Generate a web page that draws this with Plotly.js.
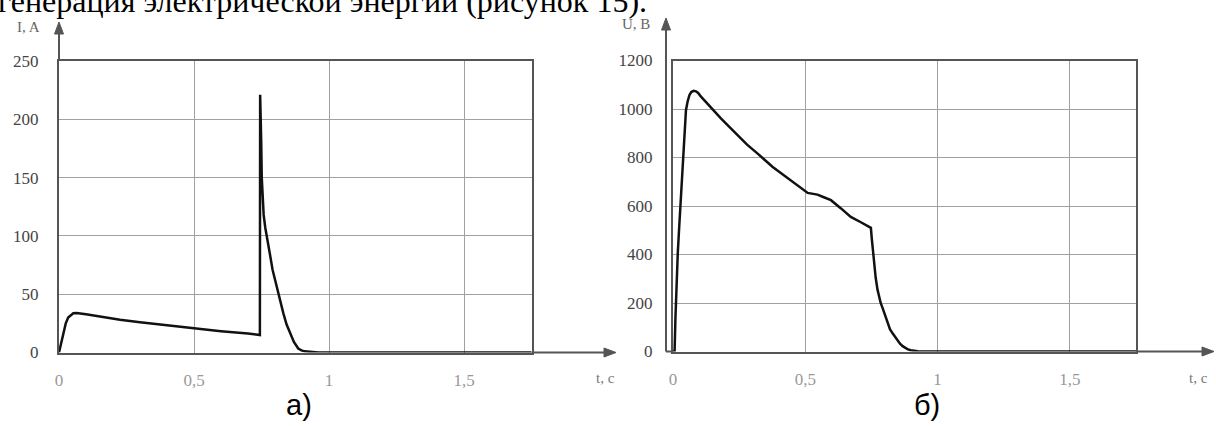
<!DOCTYPE html>
<html><head><meta charset="utf-8">
<script src="https://cdn.plot.ly/plotly-3.0.1.min.js"></script>
<style>html,body{margin:0;padding:0;background:#fff;}#chart{width:1216px;height:426px;}</style>
</head><body><div id="chart"></div>
<script>
// ---- data ----
const tCurrent = [0, 0.008, 0.016, 0.025, 0.034, 0.045, 0.053, 0.065, 0.078, 0.1, 0.14, 0.177, 0.226, 0.3, 0.4, 0.5, 0.6, 0.7, 0.744, 0.745, 0.747, 0.749, 0.751, 0.754, 0.758, 0.764, 0.77, 0.78, 0.791, 0.802, 0.812, 0.822, 0.831, 0.843, 0.856, 0.87, 0.886, 0.898, 0.91, 0.935, 0.96, 1.0, 1.75];
const current  = [0, 9, 17, 25, 30, 32.6, 33.6, 33.8, 33.5, 32.8, 31.4, 30, 28, 26, 23.3, 20.5, 18.3, 16.2, 15, 221, 205, 180, 150, 132, 118, 107, 100, 86, 71, 60, 50, 41, 33.6, 24, 16.4, 9, 3.4, 1.8, 1, 0.2, 0, 0, 0];

const tVoltage = [0, 0.006, 0.009, 0.013, 0.018, 0.023, 0.028, 0.033, 0.037, 0.041, 0.045, 0.049, 0.055, 0.062, 0.069, 0.078, 0.087, 0.095, 0.105, 0.118, 0.15, 0.181, 0.212, 0.244, 0.28, 0.32, 0.35, 0.377, 0.41, 0.446, 0.48, 0.509, 0.53, 0.546, 0.57, 0.597, 0.635, 0.672, 0.71, 0.748, 0.751, 0.754, 0.757, 0.76, 0.766, 0.773, 0.779, 0.785, 0.792, 0.798, 0.805, 0.811, 0.82, 0.83, 0.84, 0.849, 0.858, 0.868, 0.877, 0.886, 0.898, 0.911, 0.925, 0.94, 0.96, 1.75];
const voltage  = [0, 0, 130, 270, 404, 505, 596, 700, 800, 870, 935, 995, 1030, 1057, 1070, 1075, 1073, 1066, 1052, 1036, 1000, 961, 927, 892, 853, 816, 787, 761, 734, 706, 680, 654, 650, 647, 636, 624, 590, 555, 533, 510, 470, 430, 395, 365, 305, 255, 226, 200, 180, 160, 135, 113, 92, 75, 58, 44, 32, 22, 15, 10, 5, 2, 0.6, 0, 0, 0];

const timeTickVals = [0, 0.5, 1, 1.5];
const timeTickText = ['0', '0,5', '1', '1,5'];
const currentTickVals = [0, 50, 100, 150, 200, 250];
const voltageTickVals = [0, 200, 400, 600, 800, 1000, 1200];

const headingText = 'генерация электрической энергии (рисунок 15).';
const panelLabels = ['а)', 'б)'];
const axisNames = {i: 'I, A', u: 'U, B', t: 't, c'};

// ---- layout helpers (pixels -> paper) ----
const W = 1216, H = 426;
const X = p => p / W;
const Y = p => (H - p) / H;

const AX = '#555', GRID = '#a0a0a0', LAB = '#444', XLAB = '#999';
const serif = 'Liberation Serif';
const sans = 'Liberation Sans';

function xAxis(domain) {
  return {domain: domain, range: [0, 1.75], tickvals: timeTickVals, ticktext: timeTickText,
    showgrid: true, gridcolor: GRID, gridwidth: 1, zeroline: false,
    showline: true, mirror: true, linecolor: AX, linewidth: 2,
    ticks: 'outside', ticklen: 11, tickcolor: 'rgba(0,0,0,0)',
    tickfont: {family: serif, size: 17, color: XLAB}, fixedrange: true};
}
function yAxis(domain, range, vals) {
  return {domain: domain, range: range, tickvals: vals, ticktext: vals.map(String),
    showgrid: true, gridcolor: GRID, gridwidth: 1, zeroline: false,
    showline: true, mirror: true, linecolor: AX, linewidth: 2,
    ticks: 'outside', ticklen: 15, tickcolor: 'rgba(0,0,0,0)',
    tickfont: {family: serif, size: 17, color: LAB}, fixedrange: true};
}

// left panel pixel frame
const L = {x0: 59, x1: 531.5, y0: 352.5, y1: 61};
// right panel pixel frame
const R = {x0: 673, x1: 1136, y0: 351.5, y1: 60.5};

function line(x0, y0, x1, y1, w) {
  return {type: 'line', xref: 'paper', yref: 'paper', x0: X(x0), y0: Y(y0), x1: X(x1), y1: Y(y1),
    line: {color: AX, width: w || 2}};
}
function tri(pts) {
  const d = 'M ' + pts.map(p => X(p[0]) + ' ' + Y(p[1])).join(' L ') + ' Z';
  return {type: 'path', xref: 'paper', yref: 'paper', path: d, fillcolor: AX, line: {color: AX, width: 1}};
}

const shapes = [
  // left arrows
  line(L.x0, L.y1, L.x0, 32), tri([[L.x0 - 4.5, 34], [L.x0 + 4.5, 34], [L.x0, 22]]),
  line(L.x1, L.y0, 606, L.y0), tri([[604, L.y0 - 4.5], [604, L.y0 + 4.5], [616, L.y0]]),
  // right arrows
  line(666, R.y0, 666, 28), tri([[661.5, 30], [670.5, 30], [666, 18]]),
  line(666, R.y0, R.x0, R.y0), line(R.x1, R.y0, 1204, R.y0),
  tri([[1202, R.y0 - 4.5], [1202, R.y0 + 4.5], [1214, R.y0]])
];

function note(text, px, py, font, xa, ya) {
  return {text: text, xref: 'paper', yref: 'paper', x: X(px), y: Y(py),
    xanchor: xa || 'center', yanchor: ya || 'middle', showarrow: false, font: font};
}

const annotations = [
  note(headingText, -4, 21, {family: serif, size: 32, color: '#000'}, 'left', 'bottom'),
  note(axisNames.i, 28, 27, {family: serif, size: 15, color: '#666'}),
  note(axisNames.u, 636, 24, {family: serif, size: 15, color: '#666'}),
  note(axisNames.t, 605, 378, {family: serif, size: 15, color: '#777'}),
  note(axisNames.t, 1198, 378, {family: serif, size: 15, color: '#777'}),
  note(panelLabels[0], 299, 405, {family: sans, size: 29, color: '#000'}),
  note(panelLabels[1], 927, 405, {family: sans, size: 29, color: '#000'})
];

const traces = [
  {x: tCurrent, y: current, xaxis: 'x', yaxis: 'y', mode: 'lines', line: {color: '#111', width: 2.5}, hoverinfo: 'skip'},
  {x: tVoltage, y: voltage, xaxis: 'x2', yaxis: 'y2', mode: 'lines', line: {color: '#111', width: 2.5}, hoverinfo: 'skip'}
];

const layout = {
  width: W, height: H, margin: {l: 0, r: 0, t: 0, b: 0},
  font: {family: serif},
  paper_bgcolor: '#fff', plot_bgcolor: '#fff', showlegend: false,
  xaxis: Object.assign(xAxis([X(L.x0), X(L.x1)]), {anchor: 'y'}),
  yaxis: Object.assign(yAxis([Y(L.y0), Y(L.y1)], [0, 250], currentTickVals), {anchor: 'x'}),
  xaxis2: Object.assign(xAxis([X(R.x0), X(R.x1)]), {anchor: 'y2'}),
  yaxis2: Object.assign(yAxis([Y(R.y0), Y(R.y1)], [0, 1200], voltageTickVals), {anchor: 'x2'}),
  shapes: shapes, annotations: annotations
};

Plotly.newPlot('chart', traces, layout, {displayModeBar: false, staticPlot: true});
</script></body></html>
